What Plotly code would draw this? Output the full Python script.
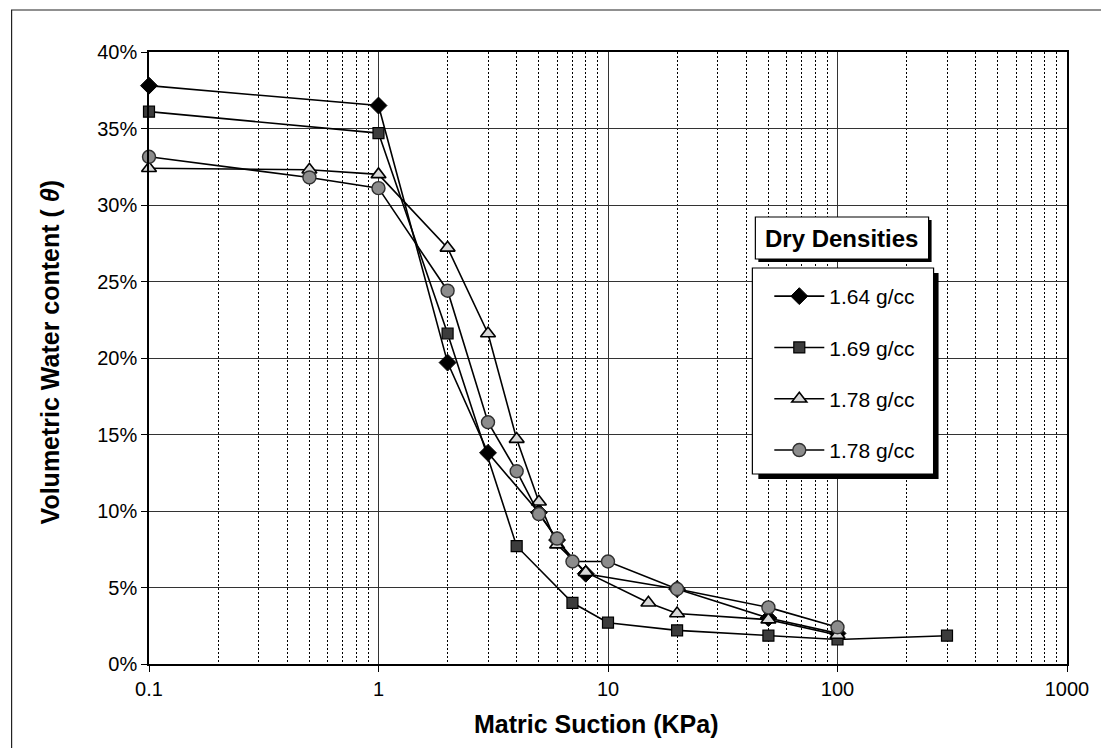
import plotly.graph_objects as go

# ---- data ----
x_164 = [0.1, 1, 2, 3, 5, 6, 8, 20, 50, 100]
y_164 = [37.8, 36.5, 19.7, 13.8, 9.9, 8.1, 5.9, 4.9, 3.0, 2.0]

x_169 = [0.1, 1, 2, 4, 7, 10, 20, 50, 100, 300]
y_169 = [36.1, 34.7, 21.6, 7.7, 4.0, 2.7, 2.2, 1.85, 1.6, 1.85]

x_178a = [0.1, 0.5, 1, 2, 3, 4, 5, 6, 8, 15, 20, 50, 100]
y_178a = [32.4, 32.3, 32.0, 27.2, 21.6, 14.7, 10.6, 7.8, 6.0, 4.0, 3.3, 2.9, 1.9]

x_178b = [0.1, 0.5, 1, 2, 3, 4, 5, 6, 7, 10, 20, 50, 100]
y_178b = [33.15, 31.8, 31.1, 24.4, 15.8, 12.6, 9.8, 8.2, 6.7, 6.7, 4.9, 3.7, 2.4]

names = ["1.64 g/cc", "1.69 g/cc", "1.78 g/cc", "1.78 g/cc"]
x_ticks = [0.1, 1, 10, 100, 1000]
x_tick_labels = ["0.1", "1", "10", "100", "1000"]
y_ticks = [0, 5, 10, 15, 20, 25, 30, 35, 40]
y_tick_labels = ["0%", "5%", "10%", "15%", "20%", "25%", "30%", "35%", "40%"]

FONT = "Liberation Sans, Arial, sans-serif"
W, H = 1101, 748
L, R, T, B = 149, 1071, 52, 664


def PX(px):
    return (px - L) / (R - L)


def PY(py):
    return (B - py) / (B - T)


fig = go.Figure()
styles = [
    dict(symbol="diamond", size=13, color="black", line=dict(color="black", width=1)),
    dict(symbol="square", size=11, color="#3c3c3c", line=dict(color="black", width=1.2)),
    dict(symbol="triangle-up", size=13, color="#d8d8d8", line=dict(color="black", width=1.6)),
    dict(symbol="circle", size=13, color="#8c8c8c", line=dict(color="#303030", width=1.4)),
]
for i, (xs, ys) in enumerate([(x_164, y_164), (x_169, y_169), (x_178a, y_178a), (x_178b, y_178b)]):
    fig.add_trace(go.Scatter(
        x=xs, y=ys, mode="lines+markers", name=names[i],
        legendgroup=f"g{i}", cliponaxis=False,
        line=dict(color="black", width=1.6),
        marker=styles[i],
    ))

shapes = [
    # outer chart border
    dict(type="rect", xref="paper", yref="paper", x0=PX(11), x1=PX(1115), y0=PY(760), y1=PY(10),
         line=dict(color="#222", width=1.2), fillcolor="rgba(0,0,0,0)", layer="below"),
    # legend title shadow + box
    dict(type="rect", xref="paper", yref="paper", x0=PX(761), x1=PX(935), y0=PY(262), y1=PY(220),
         line=dict(width=0), fillcolor="black", layer="above"),
    dict(type="rect", xref="paper", yref="paper", x0=PX(758), x1=PX(932), y0=PY(259), y1=PY(217),
         line=dict(color="black", width=1.2), fillcolor="white", layer="above"),
    # legend shadow + box
    dict(type="rect", xref="paper", yref="paper", x0=PX(761), x1=PX(942), y0=PY(479), y1=PY(273),
         line=dict(width=0), fillcolor="black", layer="above"),
    dict(type="rect", xref="paper", yref="paper", x0=PX(755), x1=PX(937), y0=PY(474), y1=PY(268),
         line=dict(color="black", width=1.2), fillcolor="white", layer="above"),
]

annotations = [
    dict(text="<b>Dry Densities</b>", xref="paper", yref="paper", x=PX(845), y=PY(238),
         xanchor="center", yanchor="middle", showarrow=False,
         font=dict(family=FONT, size=24, color="black")),
    dict(text="<b>Matric Suction (KPa)</b>", xref="paper", yref="paper", x=PX(598), y=PY(724),
         xanchor="center", yanchor="middle", showarrow=False,
         font=dict(family=FONT, size=25, color="black")),
    dict(text="<b>Volumetric Water content ( <i>θ</i>)</b>", xref="paper", yref="paper",
         x=PX(50), y=PY(352), xanchor="center", yanchor="middle", showarrow=False, textangle=-90,
         font=dict(family=FONT, size=25, color="black")),
]

fig.update_layout(
    width=W, height=H,
    margin=dict(l=L, r=W - R, t=T, b=H - B, pad=0),
    paper_bgcolor="white", plot_bgcolor="white",
    font=dict(family=FONT, size=19, color="black"),
    showlegend=True,
    legend=dict(x=PX(772), y=PY(276), xanchor="left", yanchor="top",
                bgcolor="rgba(0,0,0,0)", borderwidth=0,
                font=dict(family=FONT, size=21, color="black"),
                tracegroupgap=21, itemwidth=50),
    shapes=shapes,
    annotations=annotations,
)

fig.update_xaxes(
    type="log", range=[-1, 3],
    tickvals=x_ticks, ticktext=x_tick_labels,
    ticks="outside", ticklen=6, tickcolor="black",
    showline=True, linecolor="black", linewidth=1.5, mirror=True,
    showgrid=True, gridcolor="#333", gridwidth=1,
    minor=dict(dtick="D1", showgrid=True, gridcolor="black", griddash="1.5px,2.5px", gridwidth=1, ticks=""),
    tickfont=dict(family=FONT, size=20, color="black"),
    zeroline=False,
)
fig.update_yaxes(
    range=[0, 40], tickvals=y_ticks, ticktext=y_tick_labels,
    ticks="outside", ticklen=6, tickcolor="black",
    showline=True, linecolor="black", linewidth=1.5, mirror=True,
    showgrid=True, gridcolor="#333", gridwidth=1,
    tickfont=dict(family=FONT, size=20, color="black"),
    zeroline=False,
)

fig.write_html("out.html")
